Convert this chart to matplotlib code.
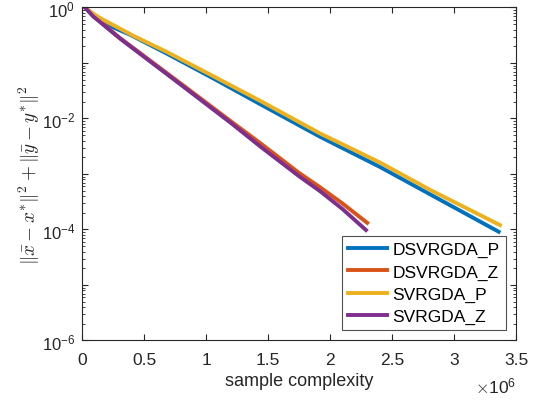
import numpy as np
import matplotlib
matplotlib.use("Agg")
import matplotlib.pyplot as plt
from matplotlib.ticker import LogLocator, FixedLocator, NullFormatter, FuncFormatter

plt.rcParams['font.family'] = ['Liberation Sans', 'DejaVu Sans']
plt.rcParams['mathtext.fontset'] = 'cm'

# sample complexity (x 1e6) and log10 of error
x_dp = [0.024, 0.09, 0.17, 0.387, 0.683, 1.06, 1.435, 1.92, 2.40, 2.81, 3.36]
y_dp = [0.0, -0.15, -0.28, -0.49, -0.83, -1.28, -1.74, -2.33, -2.87, -3.37, -4.04]

x_dz = [0.024, 0.09, 0.306, 0.79, 1.2, 1.435, 1.75, 1.92, 2.1, 2.30]
y_dz = [0.0, -0.15, -0.55, -1.36, -2.05, -2.44, -2.98, -3.24, -3.53, -3.88]

x_sp = [0.024, 0.09, 0.145, 0.414, 0.683, 1.06, 1.435, 1.92, 2.40, 2.81, 3.37]
y_sp = [0.0, -0.11, -0.19, -0.51, -0.80, -1.24, -1.68, -2.27, -2.79, -3.29, -3.92]

x_sz = [0.024, 0.09, 0.306, 0.79, 1.2, 1.435, 1.75, 1.92, 2.1, 2.29]
y_sz = [0.0, -0.16, -0.56, -1.38, -2.08, -2.50, -3.04, -3.31, -3.63, -4.01]

labels = ['DSVRGDA_P', 'DSVRGDA_Z', 'SVRGDA_P', 'SVRGDA_Z']
colors = [(0, 0.447, 0.741), (0.850, 0.325, 0.098), (0.929, 0.694, 0.125), (0.494, 0.184, 0.556)]

series = [(x_dp, y_dp), (x_dz, y_dz), (x_sp, y_sp), (x_sz, y_sz)]

fig = plt.figure(figsize=(5.41, 4.02), dpi=100)
ax = fig.add_axes([0.1516, 0.1505, 0.8022, 0.8284])

for (xs, ys), lab, c in zip(series, labels, colors):
    ax.plot(np.array(xs) * 1e6, 10 ** np.array(ys), color=c, lw=2.8, label=lab)

ax.set_yscale('log')
ax.set_xlim(0, 3.5e6)
ax.set_ylim(1e-6, 1e0)

gray = (0.15, 0.15, 0.15)
ax.xaxis.set_major_locator(FixedLocator(np.arange(0, 3.51e6, 0.5e6)))
ax.xaxis.set_major_formatter(FuncFormatter(lambda v, p: ('%g' % (v / 1e6))))
ax.yaxis.set_major_locator(FixedLocator([10.0 ** k for k in range(-6, 1)]))
ax.yaxis.set_major_formatter(FuncFormatter(
    lambda v, p: ('$\\mathregular{10^{%d}}$' % round(np.log10(v))) if round(np.log10(v)) % 2 == 0 else ''))
ax.yaxis.set_minor_locator(LogLocator(base=10, subs=np.arange(2, 10), numticks=20))
ax.yaxis.set_minor_formatter(NullFormatter())

ax.tick_params(which='both', direction='in', top=True, right=True, colors=gray,
               labelcolor=gray)
ax.tick_params(axis='x', labelsize=12.5, pad=8)
ax.tick_params(axis='y', labelsize=12, pad=5)
ax.tick_params(which='major', length=4, width=0.8)
ax.tick_params(which='minor', length=2.5, width=0.6)
for s in ax.spines.values():
    s.set_color(gray)
    s.set_linewidth(0.8)

ax.set_xlabel('sample complexity', fontsize=13, color=gray, labelpad=4)
ax.set_ylabel(r'$\|\bar{x}-x^{*}\|^2+\|\bar{y}-y^{*}\|^2$', fontsize=13.8, color=gray, labelpad=0)
ax.text(1.0, -0.135, r'$\times\mathregular{10^{6}}$', transform=ax.transAxes,
        ha='right', va='center', fontsize=12.5, color=gray)

leg = ax.legend(loc='lower right', fontsize=12.5, frameon=True, fancybox=False,
                edgecolor=gray, handlelength=2.25, handletextpad=0.3, borderpad=0.35,
                labelspacing=0.4, borderaxespad=0.6)
leg.get_frame().set_linewidth(0.8)
for t in leg.get_texts():
    t.set_color('black')

fig.savefig('out.png', dpi=100)
